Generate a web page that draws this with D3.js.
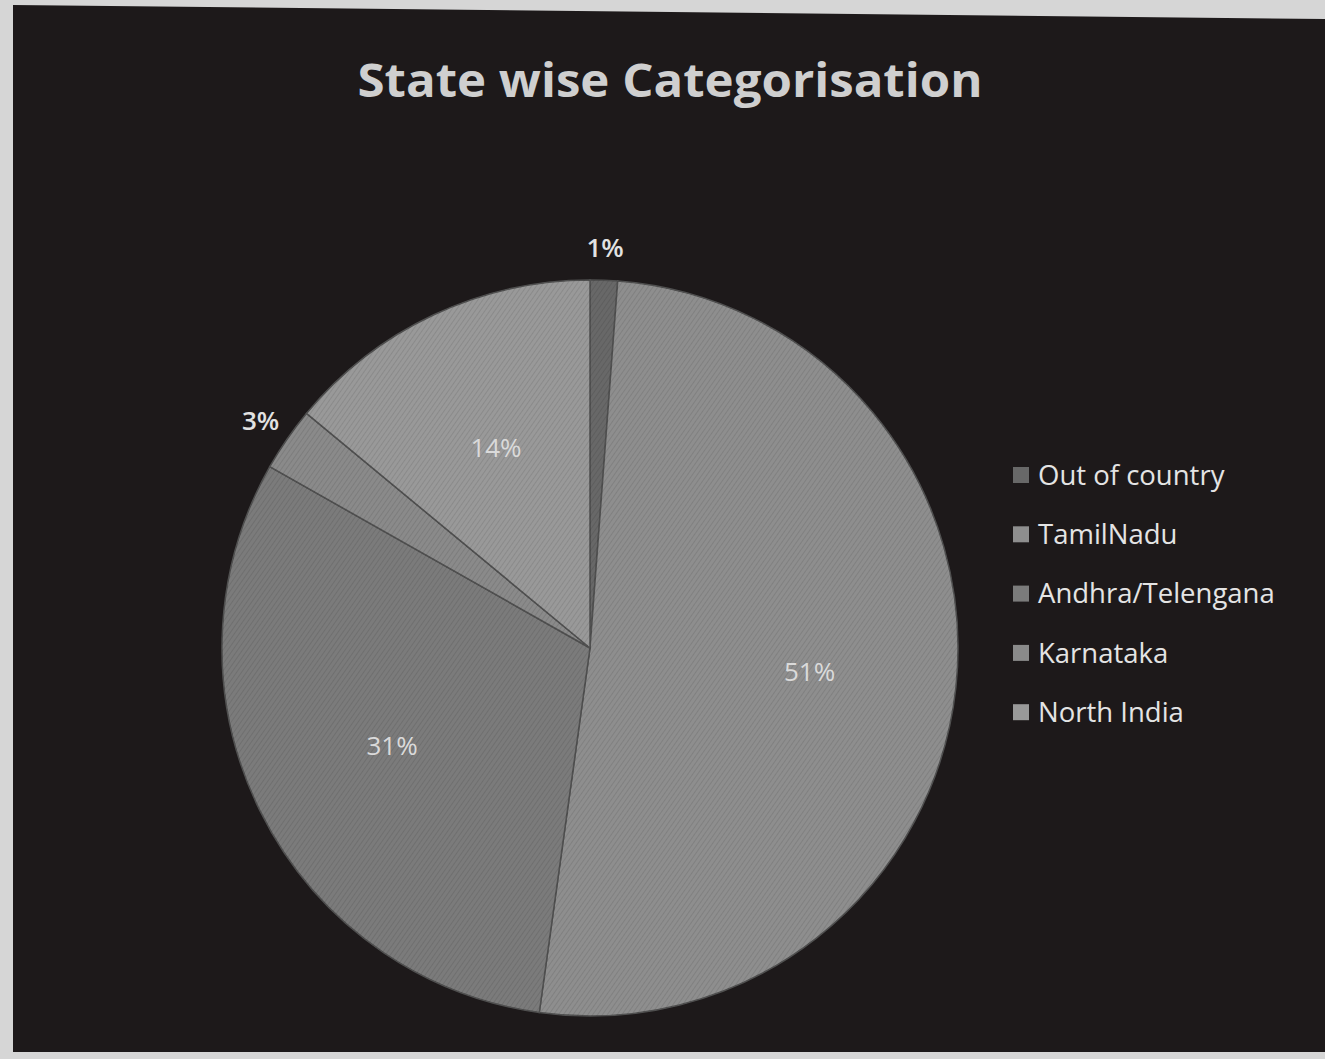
<!DOCTYPE html>
<html>
<head>
<meta charset="utf-8">
<script src="https://cdn.jsdelivr.net/npm/d3@7"></script>
<style>
  html, body { margin: 0; padding: 0; background: #d6d6d6; }
  svg { display: block; }
</style>
</head>
<body>
<div id="chart"></div>
<script>
var categories = ["Out of country", "TamilNadu", "Andhra/Telengana", "Karnataka", "North India"];
var shares = [1.2, 51, 31, 2.8, 14];
var slice_colours = ["#686868", "#8e8e8e", "#7b7b7b", "#8a8a8a", "#999999"];

var width = 1325, height = 1059;
var cx = 590, cy = 648, radius = 368;
var font = "'Open Sans', Lato, sans-serif";

var svg = d3.select("#chart").append("svg")
  .attr("width", width)
  .attr("height", height);

// photographed paper: dark chart area, slightly skewed on top
svg.append("rect")
  .attr("width", width).attr("height", height)
  .attr("fill", "#d6d6d6");
svg.append("polygon")
  .attr("points", "13,5 1325,19 1325,1052 13,1052")
  .attr("fill", "#1d191a");

// fine diagonal texture of the print
var defs = svg.append("defs");
var pat = defs.append("pattern")
  .attr("id", "stripes")
  .attr("width", 4).attr("height", 4)
  .attr("patternUnits", "userSpaceOnUse")
  .attr("patternTransform", "rotate(35)");
pat.append("rect").attr("width", 4).attr("height", 4).attr("fill", "none");
pat.append("line")
  .attr("x1", 0).attr("y1", 0).attr("x2", 0).attr("y2", 4)
  .attr("stroke", "#000").attr("stroke-opacity", 0.13).attr("stroke-width", 1.5);

// title
svg.append("text")
  .attr("x", 670)
  .attr("y", 97)
  .attr("text-anchor", "middle")
  .attr("font-family", font)
  .attr("font-weight", "bold")
  .attr("font-size", 46)
  .attr("textLength", 625)
  .attr("lengthAdjust", "spacingAndGlyphs")
  .attr("fill", "#cfcfcf")
  .text("State wise Categorisation");

var pie = d3.pie().sort(null).value(function(d) { return d; });
var arcs = pie(shares);

var arc = d3.arc().innerRadius(0).outerRadius(radius);
var labelArc = d3.arc().innerRadius(radius * 0.6).outerRadius(radius * 0.6);
var outerArc = d3.arc().innerRadius(radius + 32).outerRadius(radius + 32);

var g = svg.append("g")
  .attr("transform", "translate(" + cx + "," + cy + ")");

g.selectAll("path.slice")
  .data(arcs)
  .enter().append("path")
  .attr("class", "slice")
  .attr("d", arc)
  .attr("fill", function(d, i) { return slice_colours[i]; })
  .attr("stroke", "#505050")
  .attr("stroke-width", 1.5);

g.selectAll("path.tex")
  .data(arcs)
  .enter().append("path")
  .attr("class", "tex")
  .attr("d", arc)
  .attr("fill", "url(#stripes)");

// data labels: small slices sit outside the pie
g.selectAll("text.lbl")
  .data(arcs)
  .enter().append("text")
  .attr("class", "lbl")
  .attr("transform", function(d) {
    var c = (d.data < 5) ? outerArc.centroid(d) : labelArc.centroid(d);
    return "translate(" + c[0] + "," + c[1] + ")";
  })
  .attr("text-anchor", "middle")
  .attr("dy", "0.35em")
  .attr("font-family", font)
  .attr("font-size", 26)
  .attr("font-weight", function(d) { return d.data < 5 ? "600" : "normal"; })
  .attr("fill", function(d) { return d.data < 5 ? "#e2e2e2" : "#dadada"; })
  .text(function(d) { return Math.round(d.data) + "%"; });

// legend
var legend = svg.append("g")
  .attr("transform", "translate(1013,475)");

var rowStep = 59.3;
legend.selectAll("rect")
  .data(categories)
  .enter().append("rect")
  .attr("x", 0)
  .attr("y", function(d, i) { return i * rowStep - 8; })
  .attr("width", 16).attr("height", 16)
  .attr("fill", function(d, i) { return slice_colours[i]; });

legend.selectAll("text")
  .data(categories)
  .enter().append("text")
  .attr("x", 25)
  .attr("y", function(d, i) { return i * rowStep; })
  .attr("dy", "0.35em")
  .attr("font-family", font)
  .attr("font-size", 27.5)
  .attr("fill", "#e4e4e4")
  .text(function(d) { return d; });
</script>
</body>
</html>
